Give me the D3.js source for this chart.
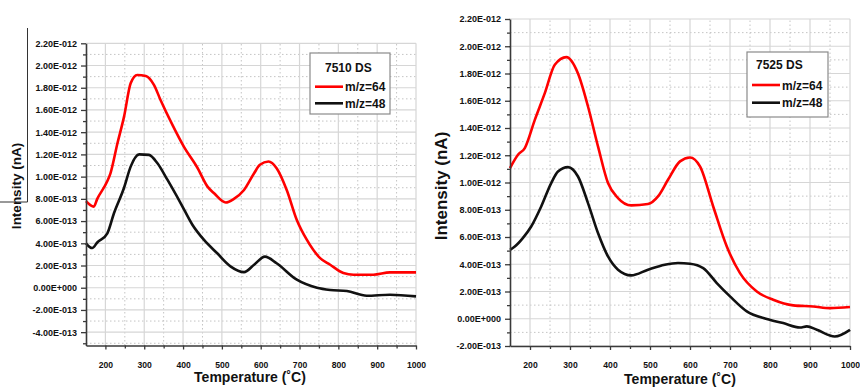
<!DOCTYPE html>
<html>
<head>
<meta charset="utf-8">
<script src="https://cdn.jsdelivr.net/npm/d3@7"></script>
<style>
  html, body { margin: 0; padding: 0; background: #fff; }
  svg { display: block; }
  text { font-family: "Liberation Sans", Arial, sans-serif; font-weight: bold; fill: #111; }
</style>
</head>
<body>
<svg id="chart" width="860" height="387"></svg>
<script>
// ---------- DATA (intensity in units of 1E-12) ----------
const xTickValues = [200, 300, 400, 500, 600, 700, 800, 900, 1000];
const xTickLabels = ["200", "300", "400", "500", "600", "700", "800", "900", "1000"];
const xMinorValues = [250, 350, 450, 550, 650, 750, 850, 950];

const leftYTickValues = [-0.4, -0.2, 0, 0.2, 0.4, 0.6, 0.8, 1.0, 1.2, 1.4, 1.6, 1.8, 2.0, 2.2];
const leftYTickLabels = ["-4.00E-013", "-2.00E-013", "0.00E+000", "2.00E-013", "4.00E-013", "6.00E-013",
  "8.00E-013", "1.00E-012", "1.20E-012", "1.40E-012", "1.60E-012", "1.80E-012", "2.00E-012", "2.20E-012"];
const rightYTickValues = [-0.2, 0, 0.2, 0.4, 0.6, 0.8, 1.0, 1.2, 1.4, 1.6, 1.8, 2.0, 2.2];
const rightYTickLabels = ["-2.00E-013", "0.00E+000", "2.00E-013", "4.00E-013", "6.00E-013",
  "8.00E-013", "1.00E-012", "1.20E-012", "1.40E-012", "1.60E-012", "1.80E-012", "2.00E-012", "2.20E-012"];
const leftYMinor = [-0.5, -0.3, -0.1, 0.1, 0.3, 0.5, 0.7, 0.9, 1.1, 1.3, 1.5, 1.7, 1.9, 2.1];
const rightYMinor = [-0.1, 0.1, 0.3, 0.5, 0.7, 0.9, 1.1, 1.3, 1.5, 1.7, 1.9, 2.1];

const leftTitle = "7510 DS";
const rightTitle = "7525 DS";
const seriesNames = ["m/z=64", "m/z=48"];
const seriesColors = ["#ff0000", "#111111"];

// 7510 DS, m/z=64
const left64T = [150, 170, 179, 205, 213, 231, 248, 265, 282, 304, 325, 342, 372, 402, 437, 463, 480, 510, 531, 557,
  583, 598, 620, 641, 667, 693, 719, 753, 779, 813, 839, 890, 933, 1000];
const left64V = [0.78, 0.73, 0.80, 0.96, 1.03, 1.30, 1.54, 1.84, 1.915, 1.906, 1.826, 1.69, 1.47, 1.27, 1.08, 0.91, 0.85, 0.767, 0.80, 0.88,
  1.03, 1.106, 1.136, 1.076, 0.88, 0.61, 0.43, 0.267, 0.207, 0.132, 0.117, 0.117, 0.138, 0.138];
// 7510 DS, m/z=48
const left48T = [150, 166, 179, 205, 222, 248, 265, 287, 312, 334, 360, 394, 424, 454, 488, 523, 557, 583, 611, 641,
  693, 745, 779, 822, 873, 933, 1000];
const left48V = [0.40, 0.357, 0.407, 0.49, 0.67, 0.90, 1.09, 1.20, 1.196, 1.12, 0.97, 0.76, 0.567, 0.43, 0.31, 0.19, 0.14, 0.207, 0.28, 0.22,
  0.072, 0.0, -0.02, -0.03, -0.072, -0.063, -0.078];
// 7525 DS, m/z=64
const right64T = [150, 170, 187, 212, 237, 262, 291, 320, 345, 370, 395, 420, 453, 495, 520, 545, 575, 600, 625, 658,
  692, 725, 767, 808, 858, 908, 950, 1000];
const right64V = [1.106, 1.204, 1.253, 1.46, 1.656, 1.864, 1.92, 1.80, 1.558, 1.265, 0.996, 0.886, 0.832, 0.842, 0.898, 1.02, 1.155, 1.184, 1.118, 0.824,
  0.53, 0.335, 0.20, 0.139, 0.098, 0.09, 0.078, 0.086];
// 7525 DS, m/z=48
const right48T = [150, 162, 182, 203, 228, 253, 270, 295, 320, 345, 370, 395, 420, 453, 495, 537, 570, 600, 633, 667,
  700, 742, 792, 833, 875, 892, 917, 962, 1000];
const right48V = [0.506, 0.53, 0.592, 0.677, 0.824, 0.996, 1.081, 1.113, 1.044, 0.849, 0.629, 0.457, 0.36, 0.318, 0.36, 0.396, 0.409, 0.404, 0.372, 0.262,
  0.164, 0.054, -0.002, -0.032, -0.064, -0.056, -0.081, -0.13, -0.081];

// ---------- DRAWING ----------
const svg = d3.select("#chart");

function panel(cfg) {
  const x = d3.scaleLinear().domain([150, 1000]).range(cfg.xRange);
  const y = d3.scaleLinear().domain(cfg.yDomain).range(cfg.yRange);
  const g = svg.append("g");
  const [x0, x1] = cfg.xRange;
  const [yb, yt] = cfg.yRange;

  // grid: minor dotted, major solid
  g.append("g").selectAll("line").data(xMinorValues).join("line")
    .attr("x1", d => x(d)).attr("x2", d => x(d)).attr("y1", yb).attr("y2", yt)
    .attr("stroke", "#c4c4c4").attr("stroke-width", 1).attr("stroke-dasharray", "1.5,2.5");
  g.append("g").selectAll("line").data(cfg.yMinor.filter(v => y(v) <= yb && y(v) >= yt)).join("line")
    .attr("x1", x0).attr("x2", x1).attr("y1", d => y(d)).attr("y2", d => y(d))
    .attr("stroke", "#c4c4c4").attr("stroke-width", 1).attr("stroke-dasharray", "1.5,2.5");
  g.append("g").selectAll("line").data(xTickValues).join("line")
    .attr("x1", d => x(d)).attr("x2", d => x(d)).attr("y1", yb).attr("y2", yt)
    .attr("stroke", "#d6d6d6").attr("stroke-width", 1.2);
  g.append("g").selectAll("line").data(cfg.yTicks).join("line")
    .attr("x1", x0).attr("x2", x1).attr("y1", d => y(d)).attr("y2", d => y(d))
    .attr("stroke", "#d6d6d6").attr("stroke-width", 1.2);

  // series
  const line = d3.line().x(d => x(d[0])).y(d => y(d[1])).curve(d3.curveMonotoneX);
  cfg.series.forEach((s, i) => {
    const pts = s.t.map((t, k) => [t, s.v[k]]);
    g.append("path").datum(pts).attr("d", line)
      .attr("fill", "none").attr("stroke", seriesColors[i]).attr("stroke-width", 2.6)
      .attr("stroke-linejoin", "round");
  });

  // axes
  const yAxis = d3.axisLeft(y).tickValues(cfg.yTicks)
    .tickFormat((d, i) => cfg.yLabels[i]).tickSizeInner(5).tickSizeOuter(0).tickPadding(4);
  const ya = g.append("g").attr("transform", `translate(${x0},0)`).call(yAxis);
  ya.selectAll("text").attr("font-size", cfg.yFont).attr("font-weight", "bold").attr("fill", "#111")
    .attr("font-family", "'Liberation Sans', Arial, sans-serif");
  const yMinorAxis = d3.axisLeft(y).tickValues(cfg.yMinor).tickFormat("").tickSizeInner(3).tickSizeOuter(0);
  const yma = g.append("g").attr("transform", `translate(${x0},0)`).call(yMinorAxis);
  yma.select(".domain").remove();

  const xAxis = d3.axisBottom(x).tickValues(xTickValues)
    .tickFormat((d, i) => xTickLabels[i]).tickSizeInner(4).tickSizeOuter(0).tickPadding(cfg.xPad);
  const xa = g.append("g").attr("transform", `translate(0,${yb})`).call(xAxis);
  xa.selectAll("text").attr("font-size", 8.6).attr("font-weight", "bold").attr("fill", "#111")
    .attr("font-family", "'Liberation Sans', Arial, sans-serif");
  const xMinorAxis = d3.axisBottom(x).tickValues(xMinorValues).tickFormat("").tickSizeInner(3).tickSizeOuter(0);
  const xma = g.append("g").attr("transform", `translate(0,${yb})`).call(xMinorAxis);
  xma.select(".domain").remove();

  [ya, yma, xa, xma].forEach(a => {
    a.selectAll(".domain").attr("stroke", "#3a3a3a").attr("stroke-width", 1.6);
    a.selectAll(".tick line").attr("stroke", "#3a3a3a").attr("stroke-width", 1.3);
  });

  // axis titles
  g.append("text").attr("x", cfg.xTitlePos[0]).attr("y", cfg.xTitlePos[1])
    .attr("text-anchor", "middle").attr("font-size", 14)
    .text("Temperature (\u02DAC)");
  g.append("text")
    .attr("transform", `translate(${cfg.yTitlePos[0]},${cfg.yTitlePos[1]}) rotate(-90)`)
    .attr("text-anchor", "middle").attr("font-size", cfg.yTitleFont)
    .text("Intensity (nA)");

  // legend
  const L = cfg.legend;
  g.append("rect").attr("x", L.x).attr("y", L.y).attr("width", L.w).attr("height", L.h)
    .attr("fill", "#fff").attr("stroke", "#8a8a8a").attr("stroke-width", 1.2);
  g.append("text").attr("x", L.titleX).attr("y", L.titleY).attr("font-size", 12).text(cfg.title);
  seriesNames.forEach((n, i) => {
    const yy = L.rowY[i];
    g.append("line").attr("x1", L.lineX[0]).attr("x2", L.lineX[1]).attr("y1", yy).attr("y2", yy)
      .attr("stroke", seriesColors[i]).attr("stroke-width", 2.6);
    g.append("text").attr("x", L.lineX[1] + 2).attr("y", yy + 4.5).attr("font-size", 12).text(n);
  });
}

panel({
  xRange: [86, 416], yDomain: [-0.52, 2.2], yRange: [345.5, 43.3],
  yTicks: leftYTickValues, yLabels: leftYTickLabels, yMinor: leftYMinor, yFont: 9,
  xPad: 12,
  xTitlePos: [250, 382], yTitlePos: [21, 186], yTitleFont: 13.5,
  title: leftTitle,
  series: [{ t: left64T, v: left64V }, { t: left48T, v: left48V }],
  legend: { x: 310, y: 53, w: 80, h: 61, titleX: 325, titleY: 72, lineX: [315, 343], rowY: [86.7, 103.3] }
});

panel({
  xRange: [510, 850], yDomain: [-0.2, 2.2], yRange: [346, 19],
  yTicks: rightYTickValues, yLabels: rightYTickLabels, yMinor: rightYMinor, yFont: 9,
  xPad: 12,
  xTitlePos: [680, 383.5], yTitlePos: [447, 186], yTitleFont: 17,
  title: rightTitle,
  series: [{ t: right64T, v: right64V }, { t: right48T, v: right48V }],
  legend: { x: 747, y: 52, w: 81, h: 65, titleX: 756, titleY: 69, lineX: [752, 780], rowY: [85, 102.7] }
});

// stray crop border line visible at the top-left of the source figure
svg.append("path").attr("d", d3.line()([[27.5, 28], [27.5, 202], [0, 202]]))
  .attr("fill", "none").attr("stroke", "#333").attr("stroke-width", 1);
</script>
</body>
</html>
